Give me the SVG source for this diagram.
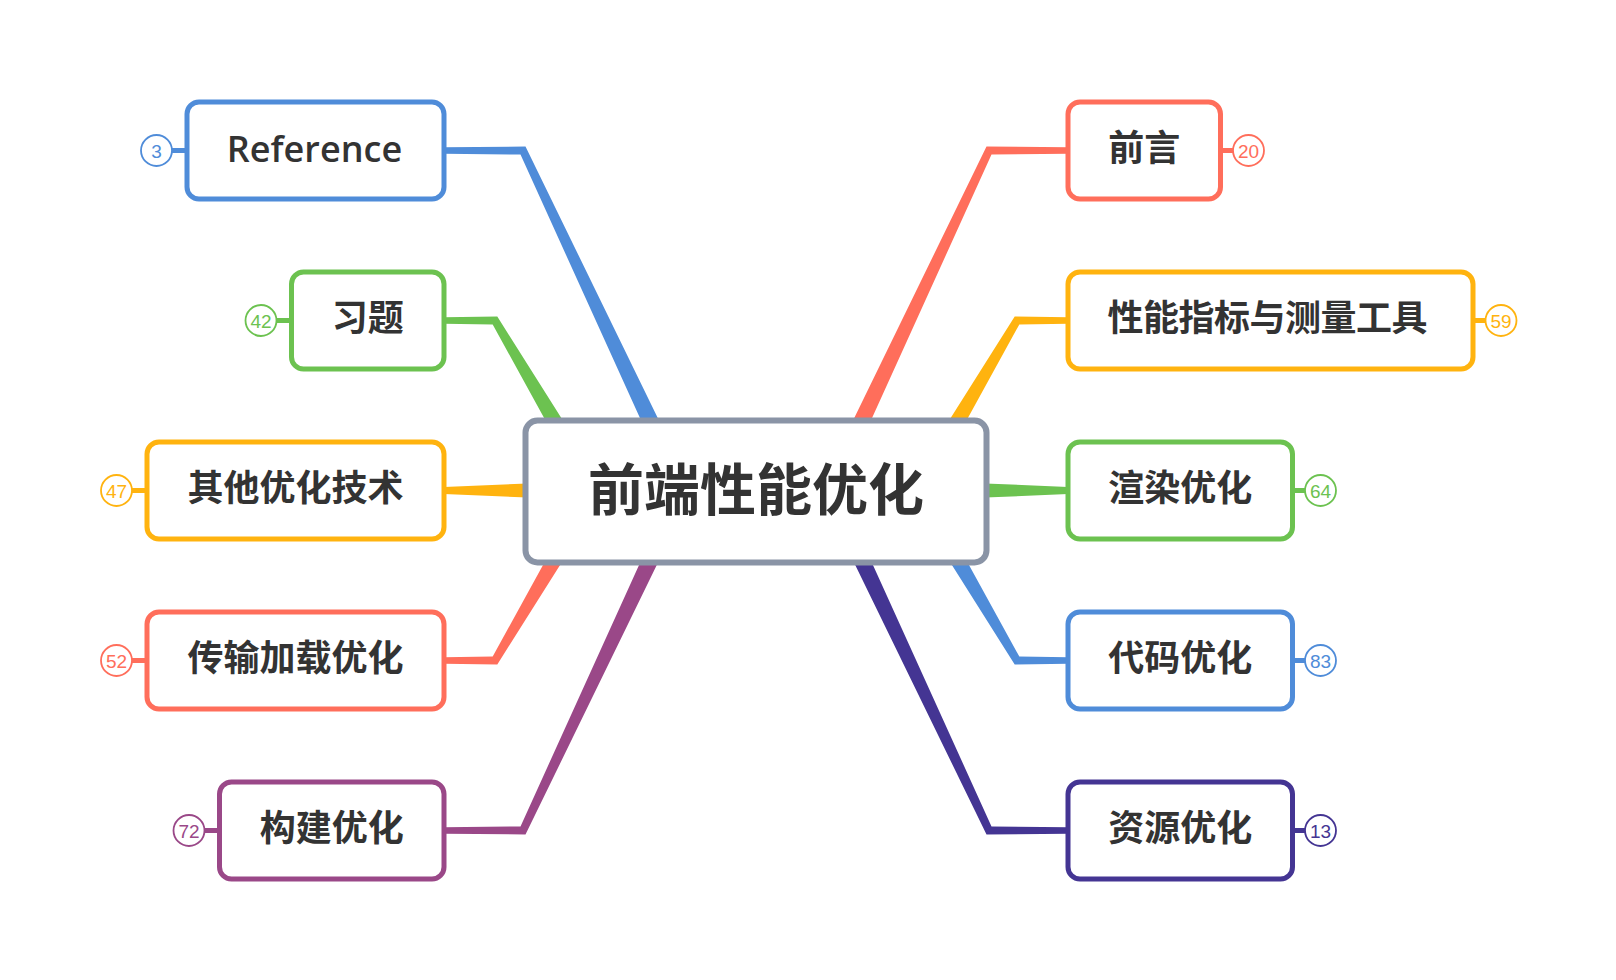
<svg xmlns="http://www.w3.org/2000/svg" width="1616" height="980" viewBox="0 0 1616 980">
<style>
.bg{fill:#ffffff}
.box{fill:#ffffff;stroke-width:5}
.center{fill:#ffffff;stroke:#8a94a6;stroke-width:6}
.t{font-family:"Noto Sans CJK SC","Open Sans",sans-serif;font-weight:700;font-size:36px;fill:#333333;text-anchor:middle}
.lat{font-family:"Open Sans","Noto Sans CJK SC",sans-serif;font-weight:600}
.ct{font-size:56px}
.badge{fill:#ffffff;stroke-width:1.8}
.stem{stroke-width:5}
.num{font-family:"Liberation Sans","Open Sans",sans-serif;font-size:19px;text-anchor:middle;font-weight:400}
.blue{stroke:#4f8cd9}
.green{stroke:#6cc250}
.yellow{stroke:#ffb30f}
.red{stroke:#ff6e5b}
.purple{stroke:#9a4888}
.navy{stroke:#443593}
.fblue{fill:#4f8cd9}
.fgreen{fill:#6cc250}
.fyellow{fill:#ffb30f}
.fred{fill:#ff6e5b}
.fpurple{fill:#9a4888}
.fnavy{fill:#443593}
</style>
<rect class="bg" x="0" y="0" width="1616" height="980"/>
<g id="connectors">
<polygon class="fblue" points="444,147.25 525.5,146.5 669.2,441.4 653.8,448.6 520.5,154.5 444,153.75"/>
<polygon class="fgreen" points="444,317.25 497.3,316.5 575.7,440.75 561.3,449.25 492.7,324.5 444,323.75"/>
<polygon class="fyellow" points="444,487 540,482.9 540,498.1 444,494"/>
<polygon class="fred" points="444,663.75 497.3,664.5 575.7,540.25 561.3,531.75 492.7,656.5 444,657.25"/>
<polygon class="fpurple" points="444,833.75 525.5,834.5 669.2,539.6 653.8,532.4 520.5,826.5 444,827.25"/>
<polygon class="fred" points="1068,147.25 986.5,146.5 842.8,441.4 858.2,448.6 991.5,154.5 1068,153.75"/>
<polygon class="fyellow" points="1068,317.25 1014.7,316.5 936.3,440.75 950.7,449.25 1019.3,324.5 1068,323.75"/>
<polygon class="fgreen" points="1068,487 972,482.9 972,498.1 1068,494"/>
<polygon class="fblue" points="1068,663.75 1014.7,664.5 936.3,540.25 950.7,531.75 1019.3,656.5 1068,657.25"/>
<polygon class="fnavy" points="1068,833.75 986.5,834.5 842.8,539.6 858.2,532.4 991.5,826.5 1068,827.25"/>
</g>
<g id="root">
<rect class="center" x="525.5" y="420.5" width="461" height="142" rx="12"/>
<text class="t ct" x="756" y="510">前端性能优化</text>
</g>
<g id="n-reference">
<line class="stem blue" x1="171.5" y1="150.5" x2="187" y2="150.5"/>
<circle class="badge blue" cx="156.5" cy="150.5" r="15.5"/>
<text class="num fblue" x="156.5" y="157.5">3</text>
<rect class="box blue" x="187" y="102" width="257" height="97" rx="12"/>
<text class="t lat" x="314.5" y="162">Reference</text>
</g>
<g id="n-xiti">
<line class="stem green" x1="276" y1="320.5" x2="291.5" y2="320.5"/>
<circle class="badge green" cx="261" cy="320.5" r="15.5"/>
<text class="num fgreen" x="261" y="327.5">42</text>
<rect class="box green" x="291.5" y="272" width="152.5" height="97" rx="12"/>
<text class="t" x="367.75" y="331">习题</text>
</g>
<g id="n-qita">
<line class="stem yellow" x1="131.5" y1="490.5" x2="147" y2="490.5"/>
<circle class="badge yellow" cx="116.5" cy="490.5" r="15.5"/>
<text class="num fyellow" x="116.5" y="497.5">47</text>
<rect class="box yellow" x="147" y="442" width="297" height="97" rx="12"/>
<text class="t" x="295.5" y="501">其他优化技术</text>
</g>
<g id="n-chuanshu">
<line class="stem red" x1="131.5" y1="660.5" x2="147" y2="660.5"/>
<circle class="badge red" cx="116.5" cy="660.5" r="15.5"/>
<text class="num fred" x="116.5" y="667.5">52</text>
<rect class="box red" x="147" y="612" width="297" height="97" rx="12"/>
<text class="t" x="295.5" y="671">传输加载优化</text>
</g>
<g id="n-goujian">
<line class="stem purple" x1="204" y1="830.5" x2="219.5" y2="830.5"/>
<circle class="badge purple" cx="189" cy="830.5" r="15.5"/>
<text class="num fpurple" x="189" y="837.5">72</text>
<rect class="box purple" x="219.5" y="782" width="224.5" height="97" rx="12"/>
<text class="t" x="331.75" y="841">构建优化</text>
</g>
<g id="n-qianyan">
<line class="stem red" x1="1220.5" y1="150.5" x2="1233.5" y2="150.5"/>
<circle class="badge red" cx="1248.5" cy="150.5" r="15.5"/>
<text class="num fred" x="1248.5" y="157.5">20</text>
<rect class="box red" x="1068" y="102" width="152.5" height="97" rx="12"/>
<text class="t" x="1144.25" y="161">前言</text>
</g>
<g id="n-xingneng">
<line class="stem yellow" x1="1473" y1="320.5" x2="1486" y2="320.5"/>
<circle class="badge yellow" cx="1501" cy="320.5" r="15.5"/>
<text class="num fyellow" x="1501" y="327.5">59</text>
<rect class="box yellow" x="1068" y="272" width="405" height="97" rx="12"/>
<text class="t" x="1267.5" y="331" textLength="320" lengthAdjust="spacing">性能指标与测量工具</text>
</g>
<g id="n-xuanran">
<line class="stem green" x1="1292.5" y1="490.5" x2="1305.5" y2="490.5"/>
<circle class="badge green" cx="1320.5" cy="490.5" r="15.5"/>
<text class="num fgreen" x="1320.5" y="497.5">64</text>
<rect class="box green" x="1068" y="442" width="224.5" height="97" rx="12"/>
<text class="t" x="1180.25" y="501">渲染优化</text>
</g>
<g id="n-daima">
<line class="stem blue" x1="1292.5" y1="660.5" x2="1305.5" y2="660.5"/>
<circle class="badge blue" cx="1320.5" cy="660.5" r="15.5"/>
<text class="num fblue" x="1320.5" y="667.5">83</text>
<rect class="box blue" x="1068" y="612" width="224.5" height="97" rx="12"/>
<text class="t" x="1180.25" y="671">代码优化</text>
</g>
<g id="n-ziyuan">
<line class="stem navy" x1="1292.5" y1="830.5" x2="1305.5" y2="830.5"/>
<circle class="badge navy" cx="1320.5" cy="830.5" r="15.5"/>
<text class="num fnavy" x="1320.5" y="837.5">13</text>
<rect class="box navy" x="1068" y="782" width="224.5" height="97" rx="12"/>
<text class="t" x="1180.25" y="841">资源优化</text>
</g>
</svg>
